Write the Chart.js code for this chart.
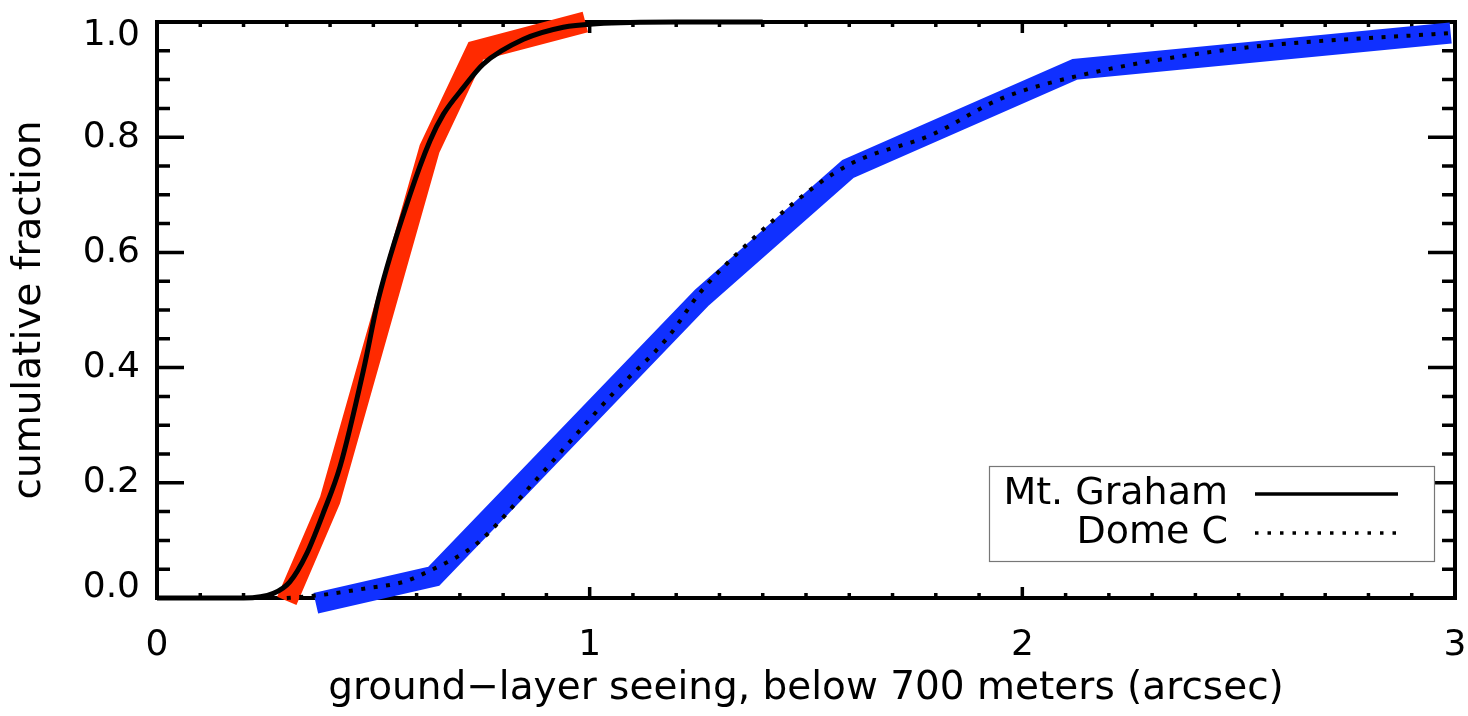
<!DOCTYPE html>
<html>
<head>
<meta charset="utf-8">
<script src="https://cdn.jsdelivr.net/npm/chart.js@4"></script>
<style>
  body { margin: 0; background: #fff; }
  canvas { display: block; }
</style>
</head>
<body>
<canvas id="myChart" width="1468" height="716"></canvas>
<script>
// Mt. Graham measured (thick red)
const grahamX = [0.30, 0.40, 0.63, 0.737, 0.99];
const grahamY = [-0.005, 0.17, 0.78, 0.95, 1.0];
// Dome C measured (thick blue)
const domeX = [0.367, 0.640, 1.26, 1.597, 2.122, 2.99];
const domeY = [-0.009, 0.038, 0.522, 0.745, 0.918, 0.981];
// Mt. Graham fit (solid black)
const grahamFitX = [0, 0.2, 0.269, 0.307, 0.346, 0.384, 0.423, 0.477, 0.512, 0.585, 0.631, 0.662, 0.708, 0.754, 0.847, 0.939, 1.016, 1.2, 1.4];
const grahamFitY = [0, 0, 0.008, 0.028, 0.077, 0.147, 0.228, 0.395, 0.52, 0.701, 0.794, 0.84, 0.886, 0.927, 0.97, 0.991, 0.997, 1.0, 1.0];
// Dome C fit (dotted black)
const domeFitX = [0.3, 0.377, 0.485, 0.57, 0.624, 0.74, 0.87, 1.054, 1.18, 1.255, 1.33, 1.516, 1.609, 1.793, 1.948, 2.126, 2.487, 2.99];
const domeFitY = [0, 0.005, 0.017, 0.028, 0.045, 0.095, 0.2, 0.355, 0.452, 0.53, 0.59, 0.712, 0.756, 0.805, 0.866, 0.906, 0.953, 0.981];

const xTicks = [0, 1, 2, 3];
const yTicks = [0, 0.2, 0.4, 0.6, 0.8, 1.0];
const legendLabels = ['Mt. Graham', 'Dome C'];
const xTitle = 'ground\u2212layer seeing, below 700 meters (arcsec)';
const yTitle = 'cumulative fraction';

const FONT = "'DejaVu Sans', sans-serif";

function puntos(xs, ys) {
  return xs.map((x, i) => ({ x: x, y: ys[i] }));
}

// frame with inward ticks on all four sides, drawn under the curves
const marcoPlugin = {
  id: 'marco',
  beforeDatasetsDraw(chart) {
    const { ctx, chartArea: a, scales } = chart;
    const sx = scales.x, sy = scales.y;
    ctx.save();
    ctx.strokeStyle = '#000';
    ctx.lineCap = 'butt';
    ctx.lineWidth = 3.5;
    ctx.beginPath();
    for (let i = 0; i <= 30; i++) {
      const px = sx.getPixelForValue(i / 10);
      const len = i % 10 === 0 ? 11 : 5;
      ctx.moveTo(px, a.bottom); ctx.lineTo(px, a.bottom - len);
      ctx.moveTo(px, a.top); ctx.lineTo(px, a.top + len);
    }
    for (let i = 0; i <= 20; i++) {
      const py = sy.getPixelForValue(i * 0.05);
      const len = i % 4 === 0 ? 27 : 13;
      ctx.moveTo(a.left, py); ctx.lineTo(a.left + len, py);
      ctx.moveTo(a.right, py); ctx.lineTo(a.right - len, py);
    }
    ctx.stroke();
    ctx.lineWidth = 4;
    ctx.strokeRect(a.left, a.top, a.right - a.left, a.bottom - a.top);

    // y tick labels, end labels kept inside the frame height
    ctx.font = '36px ' + FONT;
    ctx.fillStyle = '#000';
    ctx.textAlign = 'right';
    ctx.textBaseline = 'middle';
    yTicks.forEach((v) => {
      let py = sy.getPixelForValue(v);
      py = Math.min(Math.max(py, a.top + 14), a.bottom - 10);
      ctx.fillText(v.toFixed(1), a.left - 17, py);
    });
    ctx.restore();
  },
  afterDatasetsDraw(chart) {
    const { ctx, chartArea: a } = chart;
    const right = a.right - 21, bottom = a.bottom - 37;
    const left = right - 445, top = bottom - 95;
    ctx.save();
    ctx.fillStyle = '#fff';
    ctx.fillRect(left, top, 445, 95);
    ctx.strokeStyle = '#777';
    ctx.lineWidth = 1.2;
    ctx.strokeRect(left + 0.5, top + 0.5, 445, 95);
    ctx.font = '38px ' + FONT;
    ctx.fillStyle = '#000';
    ctx.textAlign = 'right';
    ctx.textBaseline = 'middle';
    const filas = [top + 28, top + 67];
    legendLabels.forEach((txt, i) => {
      ctx.fillText(txt, left + 239, filas[i]);
      ctx.beginPath();
      ctx.strokeStyle = '#000';
      ctx.lineWidth = 3.5;
      if (i === 1) ctx.setLineDash([3.5, 9]); else ctx.setLineDash([]);
      ctx.moveTo(left + 266, filas[i]);
      ctx.lineTo(left + 409, filas[i]);
      ctx.stroke();
    });
    ctx.restore();
  }
};

const config = {
  type: 'scatter',
  data: {
    datasets: [
      {
        label: 'Mt. Graham fit',
        data: puntos(grahamFitX, grahamFitY),
        showLine: true,
        borderColor: '#000',
        borderWidth: 5,
        cubicInterpolationMode: 'monotone',
        pointRadius: 0,
        clip: false,
        order: 1
      },
      {
        label: 'Dome C fit',
        data: puntos(domeFitX, domeFitY),
        showLine: true,
        borderColor: '#000',
        borderWidth: 4,
        borderDash: [4, 8.5],
        cubicInterpolationMode: 'monotone',
        pointRadius: 0,
        clip: false,
        order: 2
      },
      {
        label: 'Mt. Graham',
        data: puntos(grahamX, grahamY),
        showLine: true,
        borderColor: '#ff2a00',
        borderWidth: 21,
        borderJoinStyle: 'miter',
        borderCapStyle: 'butt',
        tension: 0,
        pointRadius: 0,
        clip: false,
        order: 3
      },
      {
        label: 'Dome C',
        data: puntos(domeX, domeY),
        showLine: true,
        borderColor: '#1030ff',
        borderWidth: 21,
        borderJoinStyle: 'miter',
        borderCapStyle: 'butt',
        tension: 0,
        pointRadius: 0,
        clip: false,
        order: 4
      }
    ]
  },
  options: {
    responsive: false,
    animation: false,
    layout: { padding: { top: 22, right: 13, left: 0, bottom: 0 } },
    plugins: {
      legend: { display: false },
      tooltip: { enabled: false }
    },
    scales: {
      x: {
        type: 'linear',
        min: 0,
        max: 3,
        afterBuildTicks: (scale) => { scale.ticks = xTicks.map(v => ({ value: v })); },
        afterFit: (scale) => {
          scale.height = 118;
          scale.paddingLeft = 0;
          scale.paddingRight = 0;
        },
        grid: { display: false, drawTicks: false },
        border: { display: false },
        ticks: {
          padding: 26,
          color: '#000',
          font: { family: FONT, size: 36 },
          maxRotation: 0,
          callback: (v) => String(v)
        },
        title: {
          display: true,
          text: xTitle,
          color: '#000',
          font: { family: FONT, size: 39 },
          padding: { top: 0, bottom: 4 }
        }
      },
      y: {
        type: 'linear',
        min: 0,
        max: 1,
        afterBuildTicks: (scale) => { scale.ticks = yTicks.map(v => ({ value: v })); },
        afterFit: (scale) => {
          scale.width = 157;
          scale.paddingTop = 0;
          scale.paddingBottom = 0;
        },
        grid: { display: false, drawTicks: false },
        border: { display: false },
        ticks: { display: false },
        title: {
          display: true,
          text: yTitle,
          color: '#000',
          font: { family: FONT, size: 39 },
          padding: { top: 6, bottom: 0 }
        }
      }
    }
  },
  plugins: [marcoPlugin]
};

new Chart(document.getElementById('myChart'), config);
</script>
</body>
</html>
